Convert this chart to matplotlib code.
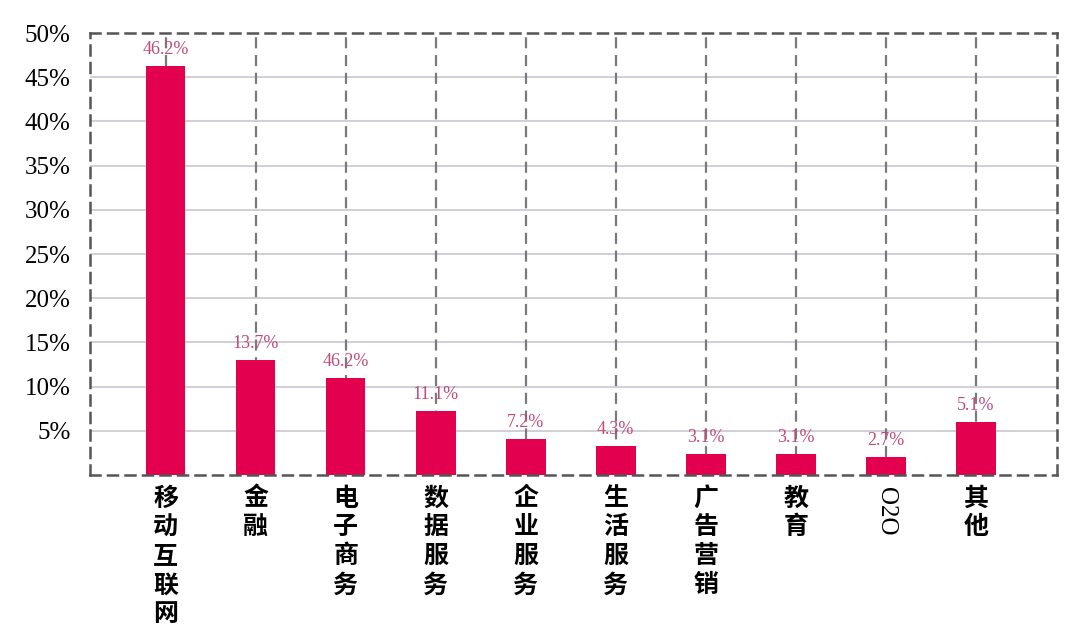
import numpy as np
import matplotlib
matplotlib.use("Agg")
import matplotlib.pyplot as plt

plt.rcParams['font.family'] = ['Noto Sans CJK SC', 'DejaVu Sans']

#===================================================
# data
categories = ['移动互联网', '金融', '电子商务', '数据服务', '企业服务',
              '生活服务', '广告营销', '教育', 'O2O', '其他']
values = [46.3, 13.0, 11.0, 7.2, 4.1, 3.3, 2.4, 2.4, 2.0, 6.0]
value_labels = ['46.2%', '13.7%', '46.2%', '11.1%', '7.2%',
                '4.3%', '3.1%', '3.1%', '2.7%', '5.1%']
yticks = [5, 10, 15, 20, 25, 30, 35, 40, 45, 50]

bar_color = '#e2004f'
label_color = '#c04a7a'
serif = 'Liberation Serif'

fig = plt.figure(figsize=(10.8, 6.36), dpi=100)
ax = fig.add_axes([0.0833, 0.2531, 0.8954, 0.6949])

x = np.arange(len(categories))
ax.bar(x, values, width=0.44, color=bar_color, zorder=3)

# vertical dashed guides at every category
for xi in x:
    ax.axvline(xi, color='#7a7a7a', lw=1.6, ls=(0, (5, 3)), zorder=2)
# horizontal grid
for yv in yticks[:-1]:
    ax.axhline(yv, color='#c9c6d6', lw=1.2, zorder=1)

for xi, v, lab in zip(x, values, value_labels):
    ax.text(xi, v + 0.9, lab, ha='center', va='bottom', color=label_color,
            fontsize=13, family=serif, zorder=4)

ax.set_xlim(-0.84, 9.9)
ax.set_ylim(0, 50)
ax.set_yticks(yticks)
ax.set_yticklabels(['%d%%' % t for t in yticks], family=serif, fontsize=18)
ax.tick_params(axis='y', length=0, pad=14)

ax.set_xticks(x)
ax.set_xticklabels([])
ax.tick_params(axis='x', length=0)
for xi, name in zip(x, categories):
    if name == 'O2O':
        ax.text(xi, -1.3, name, rotation=-90, ha='center', va='top',
                family=serif, fontsize=18)
    else:
        ax.text(xi, -1.3, '\n'.join(name), ha='center', va='top',
                fontsize=18, fontweight='black', linespacing=1.26)

for s in ax.spines.values():
    s.set_linestyle((0, (4, 3)))
    s.set_color('#555555')
    s.set_linewidth(1.8)
    s.set_zorder(5)

plt.savefig('out.png', dpi=100)
print("Done")
